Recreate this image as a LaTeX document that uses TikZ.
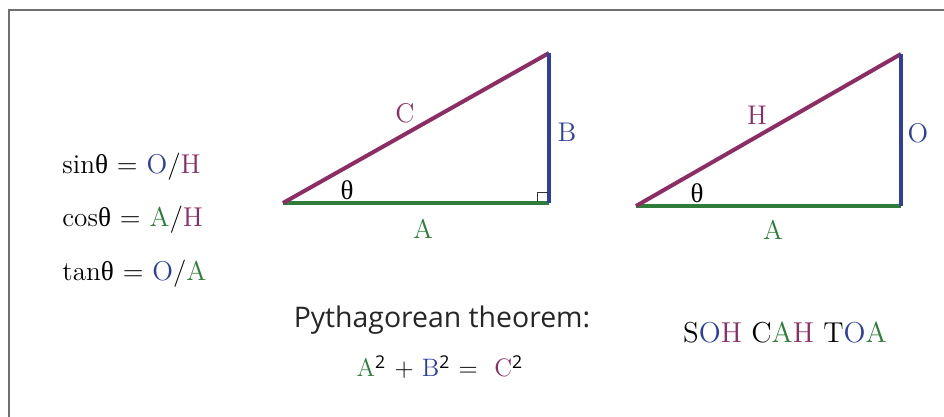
\documentclass[tikz,border=0pt]{standalone}
\usepackage{fontspec}
\newfontfamily\grk{Liberation Serif}
\newfontfamily\pysans{Open Sans}
\definecolor{cpur}{HTML}{8C2D63}
\definecolor{cblu}{HTML}{2E3F9E}
\definecolor{cgrn}{HTML}{2E7D3A}
\definecolor{cfrm}{HTML}{707070}
\newcommand{\thet}{{\grk θ}}
\begin{document}
\begin{tikzpicture}[x=0.5pt,y=-0.5pt,
  lbl/.style={inner sep=0pt,font=\fontsize{13.5}{16}\selectfont},
  eqn/.style={inner sep=0pt,anchor=base west,font=\fontsize{13.6}{16}\selectfont},
  side/.style={line width=2pt,line cap=butt},
  hyp/.style={side,draw=cpur},
  opp/.style={side,draw=cblu},
  adj/.style={side,draw=cgrn},
  frame/.style={draw=cfrm,line width=0.8pt}]
\useasboundingbox (0,0) rectangle (944,417);
% frame (cropped on right and bottom)
\coordinate (f1) at (9,10);
\coordinate (f2) at (944,10);
\coordinate (f3) at (9,417);
\draw[frame] (f2) -- (f1) -- (f3);

% formulas
\node[eqn] (sin) at (62,174) {sin\thet\ = \textcolor{cblu}{O}/\textcolor{cpur}{H}};
\node[eqn] (cos) at (62,227) {cos\thet\ = \textcolor{cgrn}{A}/\textcolor{cpur}{H}};
\node[eqn] (tan) at (62,280) {tan\thet\ = \textcolor{cblu}{O}/\textcolor{cgrn}{A}};

% triangle 1
\coordinate (p1) at (283,203);
\coordinate (q1) at (549,203);
\coordinate (r1) at (549,53);
\coordinate (ra1) at (537,202);
\coordinate (ra2) at (537,192);
\coordinate (ra3) at (548,192);
\draw[adj] (p1) -- (q1);
\draw[hyp] (p1) -- (r1);
\draw[opp] (q1) -- (r1);
\draw[draw=black!80,line width=0.4pt] (ra1) -- (ra2) -- (ra3);
\node[lbl,text=cpur] (c1) at (405,113) {C};
\node[lbl,text=cblu] (b1) at (567,132) {B};
\node[lbl] (t1) at (347,190) {\thet};
\node[lbl,text=cgrn] (a1) at (423,229) {A};

% triangle 2
\coordinate (p2) at (636,206);
\coordinate (q2) at (901,206);
\coordinate (r2) at (901,54);
\draw[adj] (p2) -- (q2);
\draw[hyp] (p2) -- (r2);
\draw[opp] (q2) -- (r2);
\node[lbl,text=cpur] (h2) at (757,115) {H};
\node[lbl,text=cblu] (o2) at (918,133) {O};
\node[lbl] (t2) at (697,193) {\thet};
\node[lbl,text=cgrn] (a2) at (773,230) {A};

% Pythagorean theorem
\node[inner sep=0pt,anchor=base,font=\pysans\fontsize{14.2}{17}\selectfont,text=black!85] (py) at (442,328) {Pythagorean theorem:};
\node[inner sep=0pt,anchor=base,font=\fontsize{12.6}{15}\selectfont] (pyeq) at (440,377) {\textcolor{cgrn}{A}\textsuperscript{\pysans 2} + \textcolor{cblu}{B}\textsuperscript{\pysans 2} = \ \textcolor{cpur}{C}\textsuperscript{\pysans 2}};

% mnemonic
\node[inner sep=0pt,anchor=base,font=\fontsize{14.4}{17}\selectfont] (soh) at (785,343) {S\textcolor{cblu}{O}\textcolor{cpur}{H} C\textcolor{cgrn}{A}\textcolor{cpur}{H} T\textcolor{cblu}{O}\textcolor{cgrn}{A}};
\end{tikzpicture}
\end{document}
